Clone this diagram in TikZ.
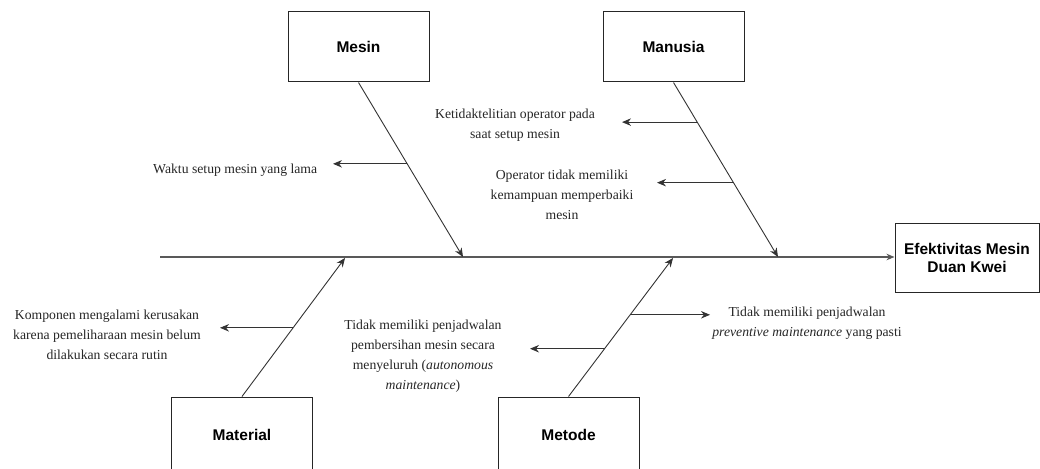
\documentclass[tikz,border=0pt]{standalone}
\usepackage{fontspec}
\setmainfont{Liberation Serif}
\setsansfont{Liberation Sans}
\usetikzlibrary{arrows.meta,calc}
\begin{document}
\begin{tikzpicture}[x=1pt,y=-1pt,
  catbox/.style={draw=black!85,line width=1pt,fill=white,minimum width=141pt,minimum height=70pt,inner sep=0pt,font=\sffamily\bfseries\fontsize{15.5}{18}\selectfont,align=center},
  bone/.style={draw=black!80,line width=0.9pt,-{Stealth[length=9pt,width=7.5pt]}},
  spine/.style={draw=black!65,line width=1.6pt,-{Stealth[length=8pt,width=6.5pt]}},
  cause/.style={font=\fontsize{13.7}{20}\selectfont,align=center,inner sep=0pt,text=black!85}]
\useasboundingbox (0,0) rectangle (1040,468);
% boxes
\node[catbox] (mesin) at (358.5,47) {Mesin};
\node[catbox] (manusia) at (673.5,47) {Manusia};
\node[catbox,minimum height=76pt] (material) at (242,435) {Material};
\node[catbox,minimum height=76pt] (metode) at (568.5,435) {Metode};
\node[catbox,minimum width=144pt,minimum height=69pt] (efek) at (967,257.5) {Efektivitas Mesin\\Duan Kwei};
% spine
\coordinate (s0) at (160,257);
\draw[spine] (s0) -- (efek.west |- s0);
% tips
\coordinate (tMesin) at (463,257);
\coordinate (tManusia) at (778,257);
\coordinate (tMaterial) at (345,258);
\coordinate (tMetode) at (673,258);
\draw[bone] (mesin.south) -- (tMesin);
\draw[bone] (manusia.south) -- (tManusia);
\draw[bone] (material.north) -- (tMaterial);
\draw[bone] (metode.north) -- (tMetode);
% branch points
\coordinate (bA) at ($(mesin.south)!0.466!(tMesin)$);
\coordinate (bB) at ($(manusia.south)!0.227!(tManusia)$);
\coordinate (bC) at ($(manusia.south)!0.574!(tManusia)$);
\coordinate (bD) at ($(material.north)!0.496!(tMaterial)$);
\coordinate (bE) at ($(metode.north)!0.59!(tMetode)$);
\coordinate (bF) at ($(metode.north)!0.345!(tMetode)$);
% arrow ends
\coordinate (eA) at (333,164);
\coordinate (eB) at (622,122);
\coordinate (eC) at (657,183);
\coordinate (eD) at (220,328);
\coordinate (eE) at (710,315);
\coordinate (eF) at (530,350);
\draw[bone] (bA) -- (eA |- bA);
\draw[bone] (bB) -- (eB |- bB);
\draw[bone] (bC) -- (eC |- bC);
\draw[bone] (bD) -- (eD |- bD);
\draw[bone] (bE) -- (eE |- bE);
\draw[bone] (bF) -- (eF |- bF);
% texts
\node[cause,anchor=west] (tA) at (153,170) {Waktu setup mesin yang lama};
\node[cause] (tB) at (515,125) {Ketidaktelitian operator pada\\saat setup mesin};
\node[cause] (tC) at (562,195) {Operator tidak memiliki\\kemampuan memperbaiki\\mesin};
\node[cause] (tD) at (107,335) {Komponen mengalami kerusakan\\karena pemeliharaan mesin belum\\dilakukan secara rutin};
\node[cause] (tE) at (807,323.5) {Tidak memiliki penjadwalan\\\textit{preventive maintenance} yang pasti};
\node[cause] (tF) at (423,356) {Tidak memiliki penjadwalan\\pembersihan mesin secara\\menyeluruh (\textit{autonomous}\\\textit{maintenance})};
\end{tikzpicture}
\end{document}
